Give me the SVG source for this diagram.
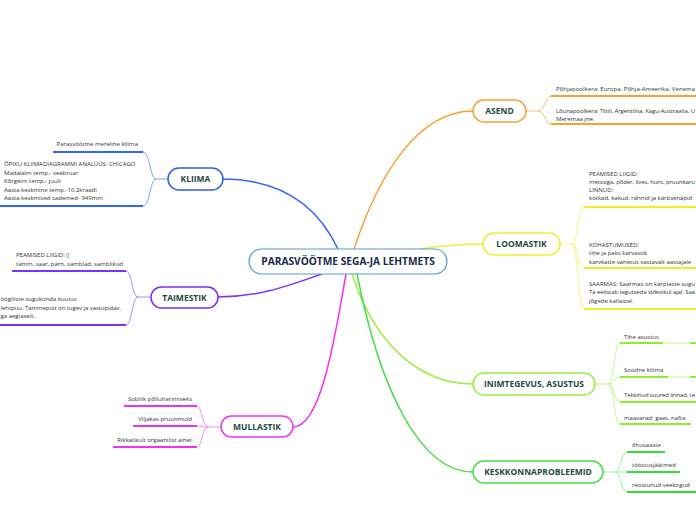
<svg xmlns="http://www.w3.org/2000/svg" width="696" height="520" viewBox="0 0 696 520">
<style>
  .bg{fill:#ffffff}
  .node rect{fill:#ffffff;stroke-width:1.5}
  .lbl{font-family:"Open Sans","Liberation Sans",sans-serif;font-weight:bold;font-size:8.5px;fill:#1e4a3b;text-anchor:middle}
  .center-lbl{font-family:"Open Sans","Liberation Sans",sans-serif;font-weight:bold;font-size:10.2px;fill:#1b2b4d;text-anchor:middle}
  .t{font-family:"Open Sans","Liberation Sans",sans-serif;font-size:6px;fill:#333333}
  .e{text-anchor:end}
  .main{fill:none;stroke-width:1.5}
  .sub{fill:none;stroke-width:1}
  .ul{fill:none;stroke-width:2}
</style>
<rect class="bg" x="0" y="0" width="696" height="520"/>
<g id="connectors">
  <path class="main" d="M222,179 C290,179 322,215 338,249" stroke="#3a66f0"/>
  <path class="main" d="M354,249 C380,170 420,111 473,111" stroke="#f6a132"/>
  <path class="main" d="M420,249 C440,246 460,244 483,244" stroke="#eeee33"/>
  <path class="main" d="M218,297 C260,297 290,285 322,274" stroke="#7b33f5"/>
  <path class="main" d="M293,427 C322,427 336,330 346,274" stroke="#ee33ee"/>
  <path class="main" d="M352,274 C375,345 420,384 473,384" stroke="#99ee44"/>
  <path class="main" d="M357,274 C380,390 420,472 473,472" stroke="#44dd44"/>
  <g stroke="#7f9cff">
    <path class="sub" d="M168,179 L156,179"/>
    <path class="sub" d="M156,179 C150,179 150,152 143,152"/>
    <path class="sub" d="M156,179 C150,179 150,206 143,206"/>
  </g>
  <g stroke="#3366ff">
    <path class="ul" d="M143,152 L53,152"/>
    <path class="ul" d="M143,206 L0,206"/>
  </g>
  <g stroke="#a98bff">
    <path class="sub" d="M151,297 L138,297"/>
    <path class="sub" d="M138,297 C132,297 132,271 126,271"/>
    <path class="sub" d="M138,297 C132,297 132,325 126,325"/>
  </g>
  <g stroke="#7a33ff">
    <path class="ul" d="M126,271 L12,271"/>
    <path class="ul" d="M126,325 L0,325"/>
  </g>
  <g stroke="#f38cf3">
    <path class="sub" d="M221,427 L208,427"/>
    <path class="sub" d="M208,427 C202,427 202,406 197,406"/>
    <path class="sub" d="M208,427 C202,427 202,426 197,426"/>
    <path class="sub" d="M208,427 C202,427 202,447 197,447"/>
  </g>
  <g stroke="#ee33ee">
    <path class="ul" d="M197,406 L124,406"/>
    <path class="ul" d="M197,426 L133,426"/>
    <path class="ul" d="M197,447 L113,447"/>
  </g>
  <g stroke="#f8c27c">
    <path class="sub" d="M526,111 L538,111"/>
    <path class="sub" d="M538,111 C545,111 545,96 551,96"/>
    <path class="sub" d="M538,111 C545,111 545,124 551,124"/>
  </g>
  <g stroke="#f6a132">
    <path class="ul" d="M551,96 L700,96"/>
    <path class="ul" d="M551,124 L700,124"/>
  </g>
  <g stroke="#f5f57a">
    <path class="sub" d="M560,244 L572,244"/>
    <path class="sub" d="M572,244 C578,244 578,207 584,207"/>
    <path class="sub" d="M572,244 C578,244 578,268 584,268"/>
    <path class="sub" d="M572,244 C578,244 578,309 584,309"/>
  </g>
  <g stroke="#eeee22">
    <path class="ul" d="M584,207 L700,207"/>
    <path class="ul" d="M584,268 L700,268"/>
    <path class="ul" d="M584,309 L700,309"/>
  </g>
  <g stroke="#c6f594">
    <path class="sub" d="M595,384 L608,384"/>
    <path class="sub" d="M608,384 C614,384 614,343 620,343"/>
    <path class="sub" d="M608,384 C614,384 614,377 620,377"/>
    <path class="sub" d="M608,384 C614,384 614,402 620,402"/>
    <path class="sub" d="M608,384 C614,384 614,424 620,424"/>
    <path class="sub" d="M663,343 L690,343"/>
    <path class="sub" d="M668,377 L690,377"/>
  </g>
  <g stroke="#8fee2a">
    <path class="ul" d="M620,343 L663,343"/>
    <path class="ul" d="M690,343 L700,343"/>
    <path class="ul" d="M620,377 L668,377"/>
    <path class="ul" d="M690,377 L700,377"/>
    <path class="ul" d="M620,402 L700,402"/>
    <path class="ul" d="M620,424 L691,424"/>
  </g>
  <g stroke="#9cee9c">
    <path class="sub" d="M603,472 L615,472"/>
    <path class="sub" d="M615,472 C621,472 621,452 627,452"/>
    <path class="sub" d="M615,472 L627,472"/>
    <path class="sub" d="M615,472 C621,472 621,492 627,492"/>
  </g>
  <g stroke="#33dd33">
    <path class="ul" d="M627,452 L665,452"/>
    <path class="ul" d="M627,472 L680,472"/>
    <path class="ul" d="M627,492 L696,492"/>
  </g>
</g>

<g id="center" class="node">
  <rect x="249" y="249" width="198" height="25" rx="12.5" stroke="#5b9bd5" style="stroke-width:1.2"/>
  <text class="center-lbl" x="348" y="265">PARASVÖÖTME SEGA-JA LEHTMETS</text>
</g>

<g id="kliima" class="node">
  <rect x="168" y="168" width="55" height="22" rx="11" stroke="#2f5ee8"/>
  <text class="lbl" x="195.5" y="182">KLIIMA</text>
  <text class="t e" x="138" y="146">Parasvöötme mereline kliima</text>
  <text class="t" x="4" y="166">ÕPIKU KLIIMADIAGRAMMI ANALÜÜS: CHICAGO</text>
  <text class="t" x="4" y="174.5">Madalaim temp.- veebruar</text>
  <text class="t" x="4" y="183">Kõrgeim temp.- juuli</text>
  <text class="t" x="4" y="191.5">Aasta keskmine temp.-10.2kraadi</text>
  <text class="t" x="4" y="200">Aasta keskmised sademed- 949mm</text>
</g>

<g id="taimestik" class="node">
  <rect x="151" y="287" width="67" height="21" rx="10.5" stroke="#7a2ff5"/>
  <text class="lbl" x="184.5" y="300.5">TAIMESTIK</text>
  <text class="t" x="16" y="256.5">PEAMISED LIIGID: ▯</text>
  <text class="t" x="16" y="266">tamm, saar, pärn, samblad, samblikud</text>
  <text class="t" x="0.5" y="301">öögiliste sugukonda kuuluv</text>
  <text class="t" x="0.5" y="309.5" textLength="120.5">lehtpuu. Tammepuit on tugev ja vastupidav.</text>
  <text class="t" x="0.5" y="318">ga aeglaselt.</text>
</g>

<g id="mullastik" class="node">
  <rect x="221" y="416" width="72" height="21" rx="10.5" stroke="#ee33ee"/>
  <text class="lbl" x="257" y="429.5">MULLASTIK</text>
  <text class="t e" x="192" y="401">Sobilik põlluharimiseks</text>
  <text class="t e" x="192" y="421">Viljakas pruunmuld</text>
  <text class="t e" x="192" y="441.5">Rikkalikult orgaanilist ainet</text>
</g>

<g id="asend" class="node">
  <rect x="473" y="100" width="53" height="22" rx="11" stroke="#f6a132"/>
  <text class="lbl" x="499.5" y="114">ASEND</text>
  <text class="t" x="556" y="91" textLength="139">Põhjapoolkera: Europa, Põhja-Ameerika, Venema</text>
  <text class="t" x="556" y="112.5" textLength="139">Lõunapoolkera: Tšiili, Argentiina, Kagu-Austraalia, U</text>
  <text class="t" x="556" y="120.5">Meremaa jne.</text>
</g>

<g id="loomastik" class="node">
  <rect x="483" y="233" width="77" height="22" rx="11" stroke="#eeee33"/>
  <text class="lbl" x="521.5" y="247">LOOMASTIK</text>
  <text class="t" x="589" y="176">PEAMISED LIIGID:</text>
  <text class="t" x="589" y="184" textLength="106">metssiga, põder, ilves, hunt, pruunkaru</text>
  <text class="t" x="589" y="192">LINNUD:</text>
  <text class="t" x="589" y="200">kotkad, kakud, rähnid ja kärbsenäpid</text>
  <text class="t" x="589" y="247">KOHASTUMUSED:</text>
  <text class="t" x="589" y="255">tihe ja paks karvastik</text>
  <text class="t" x="589" y="263.5">karvkatte vahetus vastavalt aastajale</text>
  <text class="t" x="589" y="286" textLength="106">SAARMAS: Saarmas on kärplaste sugu</text>
  <text class="t" x="589" y="294" textLength="106">Ta eelistab tegutseda videvikul ajal. Saa</text>
  <text class="t" x="589" y="302.5">jõgede kallastel.</text>
</g>

<g id="inimtegevus" class="node">
  <rect x="473" y="373" width="122" height="22" rx="11" stroke="#99ee44"/>
  <text class="lbl" x="534" y="387">INIMTEGEVUS, ASUSTUS</text>
  <text class="t" x="624" y="339">Tihe asustus</text>
  <text class="t" x="624" y="372">Soodne kliima</text>
  <text class="t" x="624" y="397" textLength="71">Tekkinud suured linnad, te</text>
  <text class="t" x="624" y="420">maavarad: gaas, nafta</text>
</g>

<g id="keskkonnaprobleemid" class="node">
  <rect x="473" y="461" width="130" height="22" rx="11" stroke="#44dd44"/>
  <text class="lbl" x="538" y="475">KESKKONNAPROBLEEMID</text>
  <text class="t" x="632" y="447">õhusaaste</text>
  <text class="t" x="632" y="467">tööstusjäätmed</text>
  <text class="t" x="632" y="487">reostunud veekogud</text>
</g>
</svg>
